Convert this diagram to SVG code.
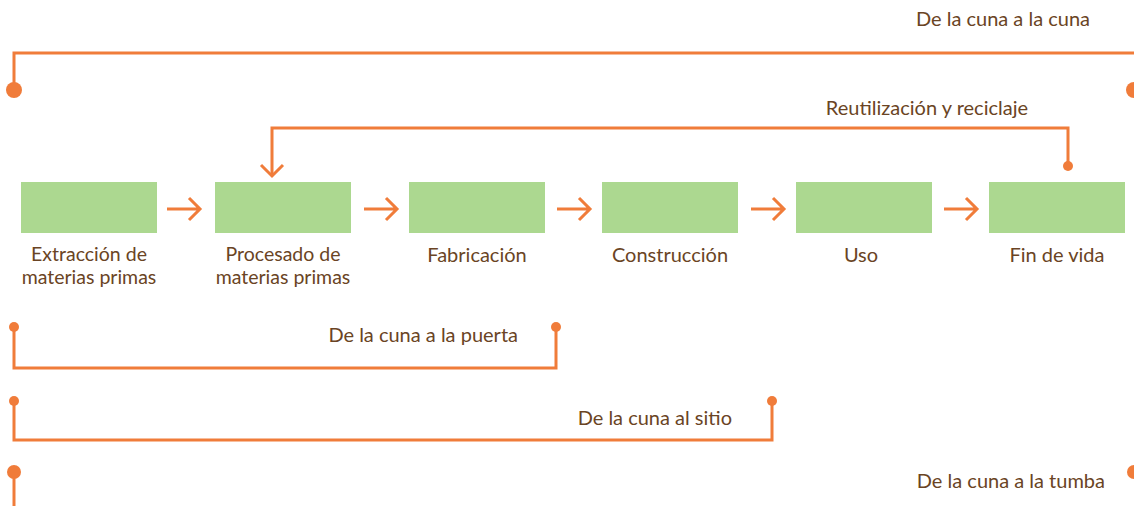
<svg xmlns="http://www.w3.org/2000/svg" width="1134" height="506" viewBox="0 0 1134 506">
<style>
.box{fill:#acd890}
.ln{fill:none;stroke:#f07c3a;stroke-width:3}
.dot{fill:#f07c3a}
text{font-family:Lato,"Open Sans","Liberation Sans",sans-serif;font-size:20px;fill:#6a4424}
.c{text-anchor:middle}
.e{text-anchor:end}
.s{font-size:19.5px}
</style>
<rect width="1134" height="506" fill="#fff"/>
<g id="connectors">
<path class="ln" d="M14 90 V53 H1134"/>
<circle class="dot" cx="14" cy="90" r="8"/>
<circle class="dot" cx="1134" cy="90" r="8"/>
<path class="ln" d="M1068 166 V128 H272 V176"/>
<path class="ln" d="M261 165 L272 176 L283 165"/>
<circle class="dot" cx="1068" cy="166" r="5"/>
<path class="ln" d="M167 209 H200 M189 198 L200 209 L189 220"/>
<path class="ln" d="M364 209 H397 M386 198 L397 209 L386 220"/>
<path class="ln" d="M557 209 H590 M579 198 L590 209 L579 220"/>
<path class="ln" d="M751 209 H784 M773 198 L784 209 L773 220"/>
<path class="ln" d="M944 209 H977 M966 198 L977 209 L966 220"/>
<path class="ln" d="M14 327 V368 H556 V327"/>
<circle class="dot" cx="14" cy="327" r="5"/>
<circle class="dot" cx="556" cy="327" r="5"/>
<path class="ln" d="M14 401 V440 H772 V401"/>
<circle class="dot" cx="14" cy="401" r="5"/>
<circle class="dot" cx="772" cy="401" r="5"/>
<path class="ln" d="M14 472 V506"/>
<circle class="dot" cx="14" cy="472" r="7"/>
<circle class="dot" cx="1134" cy="472" r="7"/>
</g>
<g id="n1"><rect class="box" x="21" y="182" width="136" height="51"/><text class="c s" x="89" y="261">Extracción de</text><text class="c s" x="89" y="284">materias primas</text></g>
<g id="n2"><rect class="box" x="215" y="182" width="136" height="51"/><text class="c s" x="283" y="261">Procesado de</text><text class="c s" x="283" y="284">materias primas</text></g>
<g id="n3"><rect class="box" x="409" y="182" width="136" height="51"/><text class="c" x="477" y="262">Fabricación</text></g>
<g id="n4"><rect class="box" x="602" y="182" width="136" height="51"/><text class="c" x="670" y="262">Construcción</text></g>
<g id="n5"><rect class="box" x="796" y="182" width="136" height="51"/><text class="c" x="861" y="262">Uso</text></g>
<g id="n6"><rect class="box" x="989" y="182" width="136" height="51"/><text class="c" x="1057" y="262">Fin de vida</text></g>
<g id="labels">
<text class="e" x="1090" y="26">De la cuna a la cuna</text>
<text class="e" x="1028" y="115">Reutilización y reciclaje</text>
<text class="e" x="518" y="342">De la cuna a la puerta</text>
<text class="e" x="732" y="425">De la cuna al sitio</text>
<text class="e" x="1105" y="488">De la cuna a la tumba</text>
</g>
</svg>
